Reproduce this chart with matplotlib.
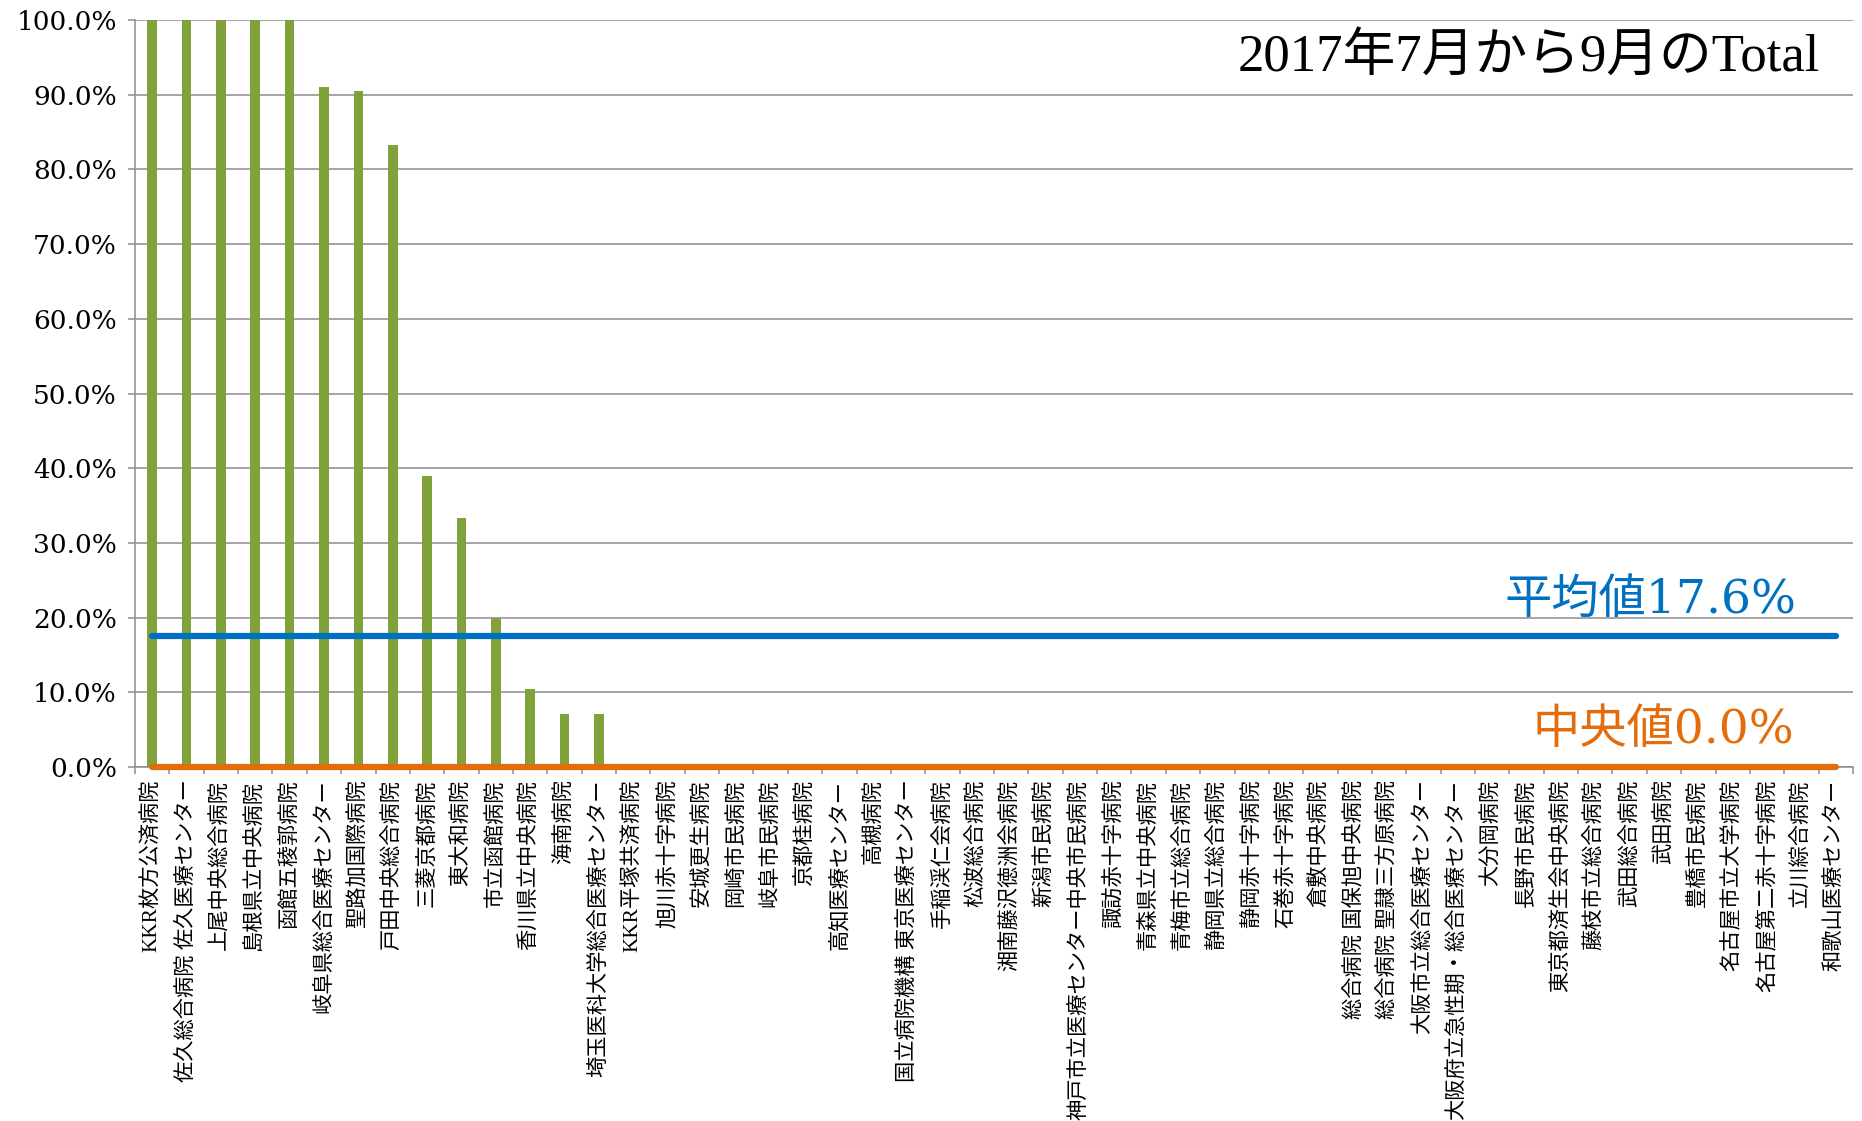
import matplotlib
matplotlib.use("Agg")
import matplotlib.pyplot as plt
import numpy as np
from matplotlib.ticker import FixedLocator, PercentFormatter

plt.rcParams['font.family'] = ['Liberation Serif', 'Noto Sans CJK JP', 'DejaVu Sans']

hospitals = [
    "KKR枚方公済病院", "佐久総合病院 佐久医療センター", "上尾中央総合病院", "島根県立中央病院",
    "函館五稜郭病院", "岐阜県総合医療センター", "聖路加国際病院", "戸田中央総合病院",
    "三菱京都病院", "東大和病院", "市立函館病院", "香川県立中央病院", "海南病院",
    "埼玉医科大学総合医療センター", "KKR平塚共済病院", "旭川赤十字病院", "安城更生病院",
    "岡崎市民病院", "岐阜市民病院", "京都桂病院", "高知医療センター", "高槻病院",
    "国立病院機構 東京医療センター", "手稲渓仁会病院", "松波総合病院", "湘南藤沢徳洲会病院",
    "新潟市民病院", "神戸市立医療センター中央市民病院", "諏訪赤十字病院", "青森県立中央病院",
    "青梅市立総合病院", "静岡県立総合病院", "静岡赤十字病院", "石巻赤十字病院", "倉敷中央病院",
    "総合病院 国保旭中央病院", "総合病院 聖隷三方原病院", "大阪市立総合医療センター",
    "大阪府立急性期・総合医療センター", "大分岡病院", "長野市民病院", "東京都済生会中央病院",
    "藤枝市立総合病院", "武田総合病院", "武田病院", "豊橋市民病院", "名古屋市立大学病院",
    "名古屋第二赤十字病院", "立川綜合病院", "和歌山医療センター",
]
values = [100.0, 100.0, 100.0, 100.0, 100.0, 91.0, 90.5, 83.3, 38.9, 33.3,
          20.0, 10.5, 7.1, 7.1] + [0.0] * 36
mean_value = 17.6
median_value = 0.0

title_text = "2017年7月から9月のTotal"
mean_label = "平均値17.6%"
median_label = "中央値0.0%"

W, H = 1862, 1121
fig = plt.figure(figsize=(W / 100, H / 100), dpi=100)
ax = fig.add_axes([135 / W, 1 - 767 / H, (1853 - 135) / W, (767 - 20) / H])

n = len(hospitals)
x = np.arange(n)
ax.bar(x, values, width=0.28, color='#7FA23B', zorder=2)
ax.plot(x, [mean_value] * n, color='#0070C0', lw=4.5, solid_capstyle='round', zorder=3)
ax.plot(x, [median_value] * n, color='#E46C0A', lw=4.5, solid_capstyle='round', zorder=3,
        clip_on=False)

ax.set_xlim(-0.5, n - 0.5)
ax.set_ylim(0, 100)
ax.yaxis.set_major_locator(FixedLocator(np.arange(0, 101, 10)))
ax.yaxis.set_major_formatter(PercentFormatter(decimals=1))
ax.grid(axis='y', color='#8C8C8C', lw=1.1, zorder=0)

ax.set_xticks(x)
ax.set_xticklabels(hospitals, rotation=90, fontsize=15.3,
                   family=['Liberation Serif', 'Noto Sans CJK JP'])
ax.set_xticks(np.arange(-0.5, n, 1.0), minor=True)
ax.tick_params(axis='x', which='major', length=0, pad=9)
ax.tick_params(axis='x', which='minor', length=5, color='#8C8C8C', width=1.1)
ax.tick_params(axis='y', length=5, color='#8C8C8C', width=1.1, pad=8,
               labelsize=19, labelfontfamily='DejaVu Serif')

for s in ['top', 'right']:
    ax.spines[s].set_visible(False)
for s in ['left', 'bottom']:
    ax.spines[s].set_color('#8C8C8C')
    ax.spines[s].set_linewidth(1.1)

ax.text(0.811, 0.95, title_text, transform=ax.transAxes, ha='center', va='center',
        fontsize=38, color='black', family=['Liberation Serif', 'Noto Sans CJK JP'])
ax.text(0.967, 22.3, mean_label, transform=ax.get_yaxis_transform(), ha='right', va='center',
        fontsize=34, color='#0070C0', family=['DejaVu Serif', 'Noto Sans CJK JP'])
ax.text(0.966, 4.9, median_label, transform=ax.get_yaxis_transform(), ha='right', va='center',
        fontsize=34, color='#E46C0A', family=['DejaVu Serif', 'Noto Sans CJK JP'])

fig.savefig('out.png', dpi=100)
